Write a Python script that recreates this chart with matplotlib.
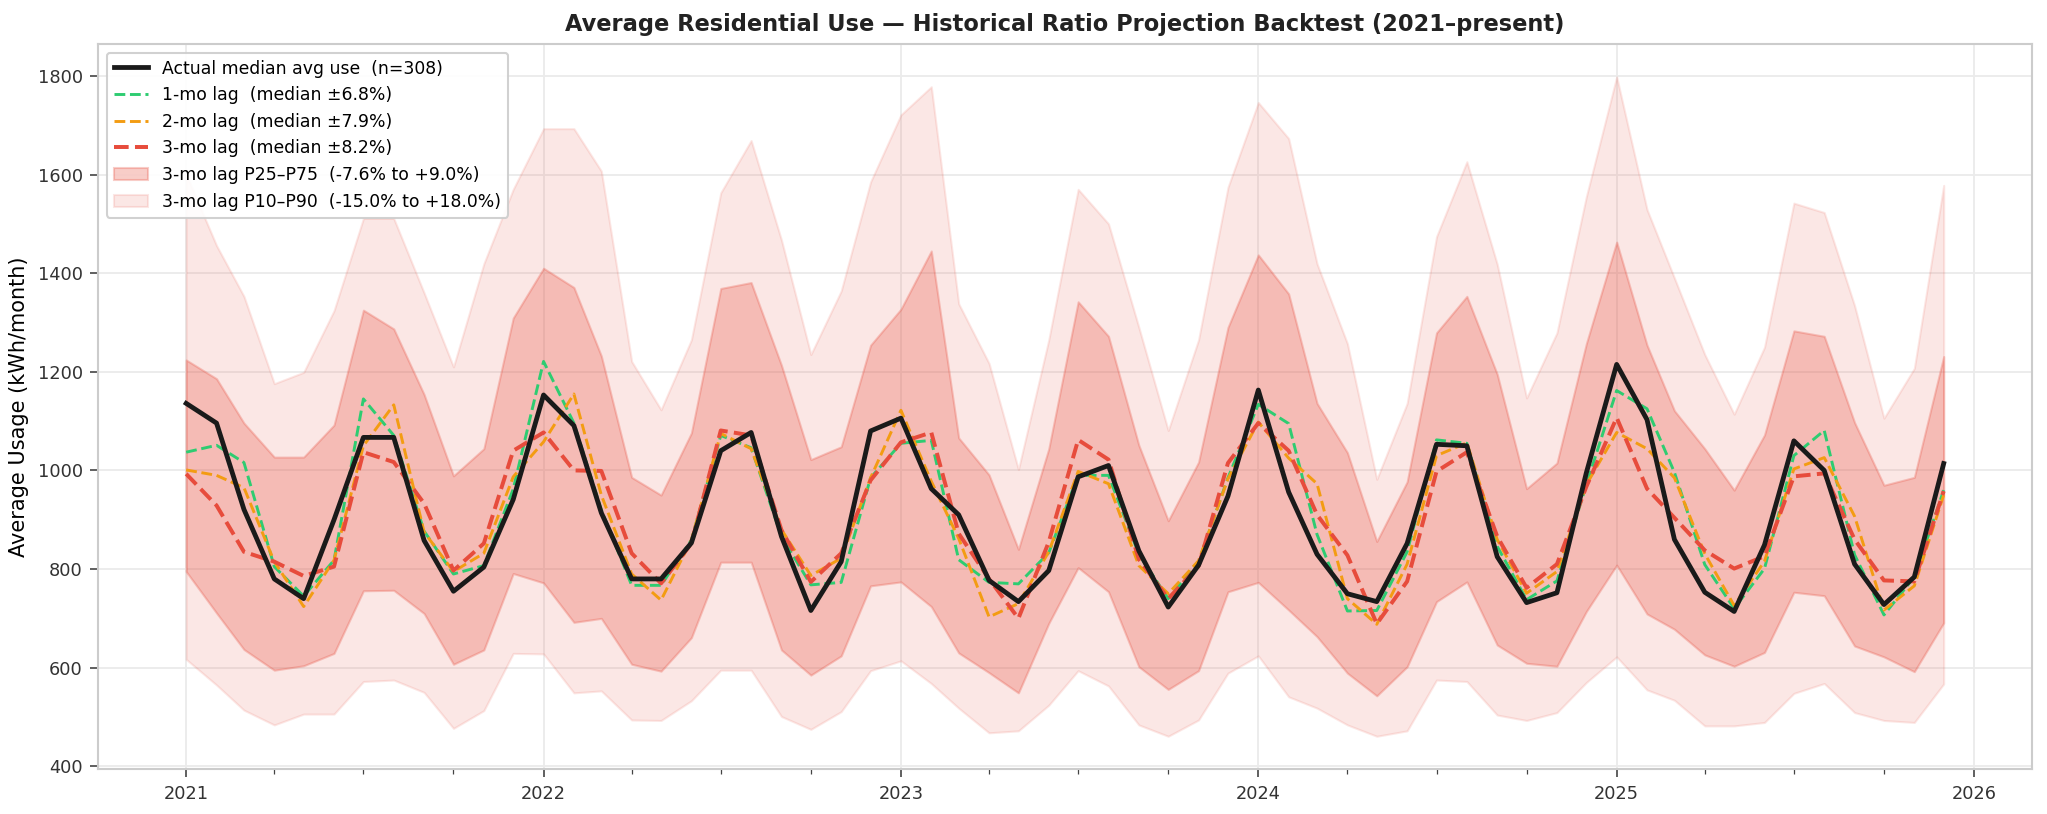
import numpy as np
import pandas as pd
import matplotlib
matplotlib.use("Agg")
import matplotlib.pyplot as plt
import matplotlib.dates as mdates

# monthly backtest, Jan 2021 - Dec 2025
months = pd.date_range("2021-01-01", periods=60, freq="MS")

actual = [1136, 1096, 921, 780, 740, 900, 1067, 1067, 858, 755, 804, 941,
          1153, 1091, 914, 780, 780, 853, 1040, 1077, 866, 716, 815, 1080,
          1106, 963, 910, 777, 734, 797, 987, 1010, 837, 723, 808, 948,
          1163, 956, 830, 750, 734, 852, 1053, 1050, 825, 732, 752, 995,
          1215, 1103, 860, 753, 714, 849, 1060, 1000, 810, 728, 784, 1014]

lag1 = [1037, 1051, 1016, 805, 745, 818, 1145, 1071, 877, 790, 807, 962,
        1221, 1096, 920, 767, 767, 859, 1071, 1046, 866, 768, 773, 985,
        1055, 1061, 819, 773, 770, 833, 990, 990, 830, 740, 815, 985,
        1134, 1095, 870, 715, 716, 835, 1062, 1055, 846, 738, 776, 971,
        1162, 1125, 996, 809, 720, 801, 1030, 1081, 829, 707, 784, 960]

lag2 = [1001, 990, 965, 815, 724, 818, 1050, 1133, 875, 795, 832, 987,
        1058, 1155, 950, 790, 737, 859, 1075, 1044, 880, 787, 822, 985,
        1122, 978, 862, 703, 730, 835, 998, 973, 807, 750, 817, 983,
        1098, 1025, 973, 740, 688, 810, 1030, 1056, 860, 751, 795, 971,
        1077, 1044, 985, 831, 726, 816, 1003, 1026, 907, 717, 766, 950]

lag3 = [993, 929, 835, 815, 786, 805, 1037, 1017, 933, 797, 852, 1040,
        1077, 1000, 999, 832, 771, 852, 1081, 1071, 879, 774, 832, 980,
        1057, 1077, 872, 780, 700, 855, 1062, 1022, 820, 740, 806, 1015,
        1096, 1040, 910, 828, 689, 775, 998, 1037, 866, 762, 810, 967,
        1107, 963, 904, 838, 801, 826, 988, 994, 860, 777, 775, 958]

p25 = [795, 711, 637, 595, 604, 629, 756, 757, 710, 607, 636, 791,
       772, 692, 700, 607, 593, 661, 814, 814, 636, 585, 624, 766,
       774, 724, 630, 590, 549, 690, 803, 754, 602, 556, 594, 754,
       773, 717, 663, 589, 543, 602, 734, 774, 646, 609, 603, 714,
       808, 709, 678, 626, 603, 631, 753, 746, 644, 622, 592, 691]

p75 = [1224, 1186, 1096, 1027, 1027, 1092, 1325, 1287, 1154, 989, 1044, 1309,
       1410, 1371, 1232, 986, 950, 1076, 1369, 1381, 1213, 1022, 1048, 1254,
       1327, 1445, 1066, 991, 840, 1044, 1342, 1272, 1051, 898, 1017, 1290,
       1437, 1358, 1136, 1036, 856, 977, 1279, 1353, 1195, 963, 1015, 1257,
       1463, 1254, 1121, 1044, 960, 1072, 1283, 1272, 1097, 970, 986, 1231]

p10 = [617, 565, 514, 484, 506, 506, 572, 575, 550, 477, 513, 629,
       628, 549, 553, 494, 493, 533, 595, 595, 501, 475, 511, 594,
       614, 568, 518, 468, 472, 524, 594, 563, 484, 461, 494, 589,
       624, 541, 518, 484, 461, 472, 575, 572, 504, 493, 509, 570,
       622, 555, 534, 482, 482, 489, 548, 568, 509, 493, 489, 567]

p90 = [1600, 1456, 1353, 1176, 1199, 1324, 1511, 1511, 1360, 1210, 1419, 1570,
       1693, 1693, 1607, 1221, 1123, 1265, 1563, 1669, 1467, 1235, 1364, 1585,
       1721, 1778, 1338, 1217, 1002, 1265, 1570, 1500, 1290, 1081, 1265, 1574,
       1746, 1673, 1419, 1257, 982, 1136, 1474, 1626, 1418, 1147, 1279, 1555,
       1798, 1529, 1390, 1235, 1114, 1250, 1542, 1523, 1334, 1106, 1207, 1578]

RED = "#e74c3c"

plt.rcParams.update({
    "font.family": "DejaVu Sans",
    "axes.edgecolor": "#cccccc",
    "axes.linewidth": 1.0,
    "grid.color": "#ebebeb",
    "grid.linewidth": 0.9,
    "xtick.color": "#444444",
    "ytick.color": "#444444",
    "xtick.labelcolor": "#333333",
    "ytick.labelcolor": "#333333",
})

fig, ax = plt.subplots(figsize=(13.653, 5.427), dpi=150)

ax.fill_between(months, p10, p90, color=RED, alpha=0.13,
                label="3-mo lag P10\u2013P90  (-15.0% to +18.0%)")
ax.fill_between(months, p25, p75, color=RED, alpha=0.28,
                label="3-mo lag P25\u2013P75  (-7.6% to +9.0%)")

ax.plot(months, actual, color="#1a1a1a", lw=2.3,
        label="Actual median avg use  (n=308)", zorder=5)
ax.plot(months, lag1, color="#2ecc71", lw=1.4, ls="--",
        label="1-mo lag  (median \u00b16.8%)", zorder=4)
ax.plot(months, lag2, color="#f39c12", lw=1.4, ls="--",
        label="2-mo lag  (median \u00b17.9%)", zorder=4)
ax.plot(months, lag3, color=RED, lw=1.9, ls="--",
        label="3-mo lag  (median \u00b18.2%)", zorder=4)

ax.xaxis.set_major_locator(mdates.YearLocator())
ax.xaxis.set_major_formatter(mdates.DateFormatter("%Y"))
ax.xaxis.set_minor_locator(mdates.MonthLocator(bymonth=[4, 7, 10]))
ax.tick_params(axis="both", which="major", length=4, width=0.8, labelsize=8.5)
ax.tick_params(axis="x", which="minor", length=2.5, width=0.6)

ax.grid(True, which="major")
ax.set_axisbelow(True)
for s in ax.spines.values():
    s.set_color("#cccccc")

ax.set_ylabel("Average Usage (kWh/month)", fontsize=10)
ax.set_title("Average Residential Use \u2014 Historical Ratio Projection Backtest (2021\u2013present)",
             fontsize=10.8, fontweight="bold", color="#222222")

h, l = ax.get_legend_handles_labels()
order = [2, 3, 4, 5, 1, 0]
ax.legend([h[i] for i in order], [l[i] for i in order], loc="upper left",
          fontsize=8.3, frameon=True, framealpha=0.9, edgecolor="#cccccc")

fig.subplots_adjust(left=0.048, right=0.992, top=0.946, bottom=0.055)
fig.savefig("out.png", dpi=150)
